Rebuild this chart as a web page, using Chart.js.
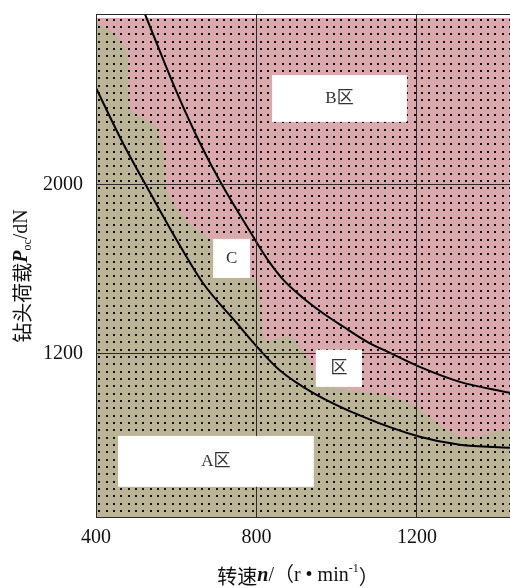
<!DOCTYPE html>
<html>
<head>
<meta charset="utf-8">
<script src="https://cdn.jsdelivr.net/npm/chart.js@4.4.1/dist/chart.umd.min.js"></script>
<style>
  html, body { margin: 0; padding: 0; background: #fff; }
</style>
</head>
<body>
<canvas id="c" width="510" height="588"></canvas>
<script>
// ticks
var xTicks = [400, 800, 1200];
var yTicks = [1200, 2000];

// upper boundary curve (B / C)
var upperX = [522, 602, 659, 714, 784, 804, 834, 867, 917, 966, 1016, 1075, 1133, 1207, 1307, 1432];
var upperY = [2807, 2433, 2196, 1998, 1777, 1714, 1627, 1548, 1461, 1390, 1327, 1256, 1202, 1136, 1065, 1013];

// lower boundary curve (A / C)
var lowerX = [400, 467, 535, 601, 667, 751, 809, 858, 941, 1065, 1207, 1307, 1432];
var lowerY = [2457, 2196, 1960, 1737, 1532, 1343, 1215, 1120, 1013, 900, 805, 767, 753];

// edge of the shaded A region
var edgeX = [400, 417, 440, 460, 475, 480, 481, 482, 484, 497, 522, 542, 557, 567, 571, 573, 584, 609, 642, 677, 734, 784, 804, 809, 814, 821, 846, 883, 908, 933, 953, 996, 1063, 1140, 1200, 1240, 1290, 1332, 1382, 1432];
var edgeY = [2769, 2746, 2722, 2684, 2637, 2580, 2495, 2424, 2367, 2334, 2310, 2286, 2249, 2163, 2069, 1998, 1941, 1865, 1799, 1751, 1652, 1567, 1524, 1453, 1382, 1264, 1269, 1278, 1231, 1160, 1084, 1037, 1018, 994, 942, 885, 823, 804, 823, 847];

// top of the shaded B region
var topX = [400, 1432];
var topY = [2788, 2788];

var regionNames = ['B区', 'C', '区', 'A区'];

function pts(xs, ys) {
  return xs.map(function(x, i) { return {x: x, y: ys[i]}; });
}

var canvas = document.getElementById('c');
var ctx = canvas.getContext('2d');

function dots(bg) {
  var p = document.createElement('canvas');
  p.width = 22; p.height = 22;
  var g = p.getContext('2d');
  g.fillStyle = bg;
  g.fillRect(0, 0, 22, 22);
  g.fillStyle = '#111';
  [0, 7, 15].forEach(function(a) {
    [0, 7, 15].forEach(function(b) { g.fillRect(a + 3, b + 4, 2, 2); });
  });
  return ctx.createPattern(p, 'repeat');
}

// white label boxes, in data units: x0, x1, y0, y1
var boxes = [[839, 1175, 2296, 2518], [692, 784, 1557, 1742], [948, 1063, 1041, 1217], [455, 943, 568, 809]];

function rich(c, parts, x, y, turn) {
  c.save();
  c.translate(x, y);
  if (turn) c.rotate(-Math.PI / 2);
  c.textBaseline = 'middle';
  c.textAlign = 'left';
  c.fillStyle = '#111';
  var total = 0;
  parts.forEach(function(p) { c.font = p.f; p.w = c.measureText(p.t).width; total += p.w; });
  var cx = -total / 2;
  parts.forEach(function(p) { c.font = p.f; c.fillText(p.t, cx, p.dy || 0); cx += p.w; });
  c.restore();
}

var serif = '"Liberation Serif", "Noto Sans CJK SC", serif';
var cjk = '"Noto Sans CJK SC", sans-serif';

var overlay = {
  id: 'overlay',
  afterDraw: function(chart) {
    var c = chart.ctx, xs = chart.scales.x, ys = chart.scales.y, a = chart.chartArea;
    c.save();
    boxes.forEach(function(b, i) {
      var l = xs.getPixelForValue(b[0]), r = xs.getPixelForValue(b[1]);
      var t = ys.getPixelForValue(b[3]), btm = ys.getPixelForValue(b[2]);
      c.fillStyle = '#fff';
      c.fillRect(l, t, r - l, btm - t);
      c.fillStyle = '#333';
      c.font = '17px ' + serif;
      c.textAlign = 'center';
      c.textBaseline = 'middle';
      c.fillText(regionNames[i], (l + r) / 2, (t + btm) / 2);
    });
    c.restore();

    rich(c, [
      {t: '转速', f: '20px ' + cjk},
      {t: 'n', f: 'italic bold 20px ' + serif},
      {t: '/（r • min', f: '20px ' + serif},
      {t: '-1', f: '12px ' + serif, dy: -7},
      {t: '）', f: '20px ' + cjk}
    ], (a.left + a.right) / 2 - 5, a.bottom + 59, false);

    rich(c, [
      {t: '钻头荷载', f: '20px ' + cjk},
      {t: 'P', f: 'italic bold 20px ' + serif},
      {t: 'oc', f: '12px ' + serif, dy: 6},
      {t: '/dN', f: '20px ' + serif}
    ], 22, 276, true);
  }
};

new Chart(ctx, {
  type: 'scatter',
  data: {
    datasets: [
      {
        data: pts(upperX, upperY),
        showLine: true, borderColor: '#000', borderWidth: 2, pointRadius: 0,
        cubicInterpolationMode: 'monotone', fill: false, order: 0
      },
      {
        data: pts(lowerX, lowerY),
        showLine: true, borderColor: '#000', borderWidth: 2, pointRadius: 0,
        cubicInterpolationMode: 'monotone', fill: false, order: 0
      },
      {
        data: pts(edgeX, edgeY),
        showLine: true, borderWidth: 0, borderColor: 'rgba(0,0,0,0)', pointRadius: 0,
        tension: 0.3, backgroundColor: dots('#bbb497'), fill: 'start', order: 1
      },
      {
        data: pts(topX, topY),
        showLine: true, borderWidth: 0, borderColor: 'rgba(0,0,0,0)', pointRadius: 0,
        backgroundColor: dots('#daa9ad'), fill: 'start', order: 2
      }
    ]
  },
  options: {
    responsive: false,
    animation: false,
    layout: {padding: {top: 14, right: 0, left: 0, bottom: 0}},
    plugins: {legend: {display: false}, tooltip: {enabled: false}},
    scales: {
      x: {
        type: 'linear', min: 400, max: 1432,
        afterBuildTicks: function(s) { s.ticks = xTicks.map(function(v) { return {value: v}; }); },
        afterFit: function(s) { s.height = 71; s.paddingRight = 0; },
        grid: {color: '#2a2a2a', drawTicks: false, z: 1},
        border: {color: '#2a2a2a', z: 1},
        ticks: {
          color: '#111', padding: 9, font: {family: serif, size: 20},
          callback: function(v) { return String(v); }
        }
      },
      y: {
        type: 'linear', min: 425, max: 2807,
        afterBuildTicks: function(s) {
          s.ticks = [425].concat(yTicks, [2807]).map(function(v) { return {value: v}; });
        },
        afterFit: function(s) { s.width = 96; s.paddingTop = 0; s.paddingBottom = 0; },
        grid: {color: '#2a2a2a', drawTicks: false, z: 1},
        border: {color: '#2a2a2a', z: 1},
        ticks: {
          color: '#111', padding: 13, font: {family: serif, size: 20},
          callback: function(v) { return yTicks.indexOf(v) >= 0 ? String(v) : ''; }
        }
      }
    }
  },
  plugins: [overlay]
});
</script>
</body>
</html>
